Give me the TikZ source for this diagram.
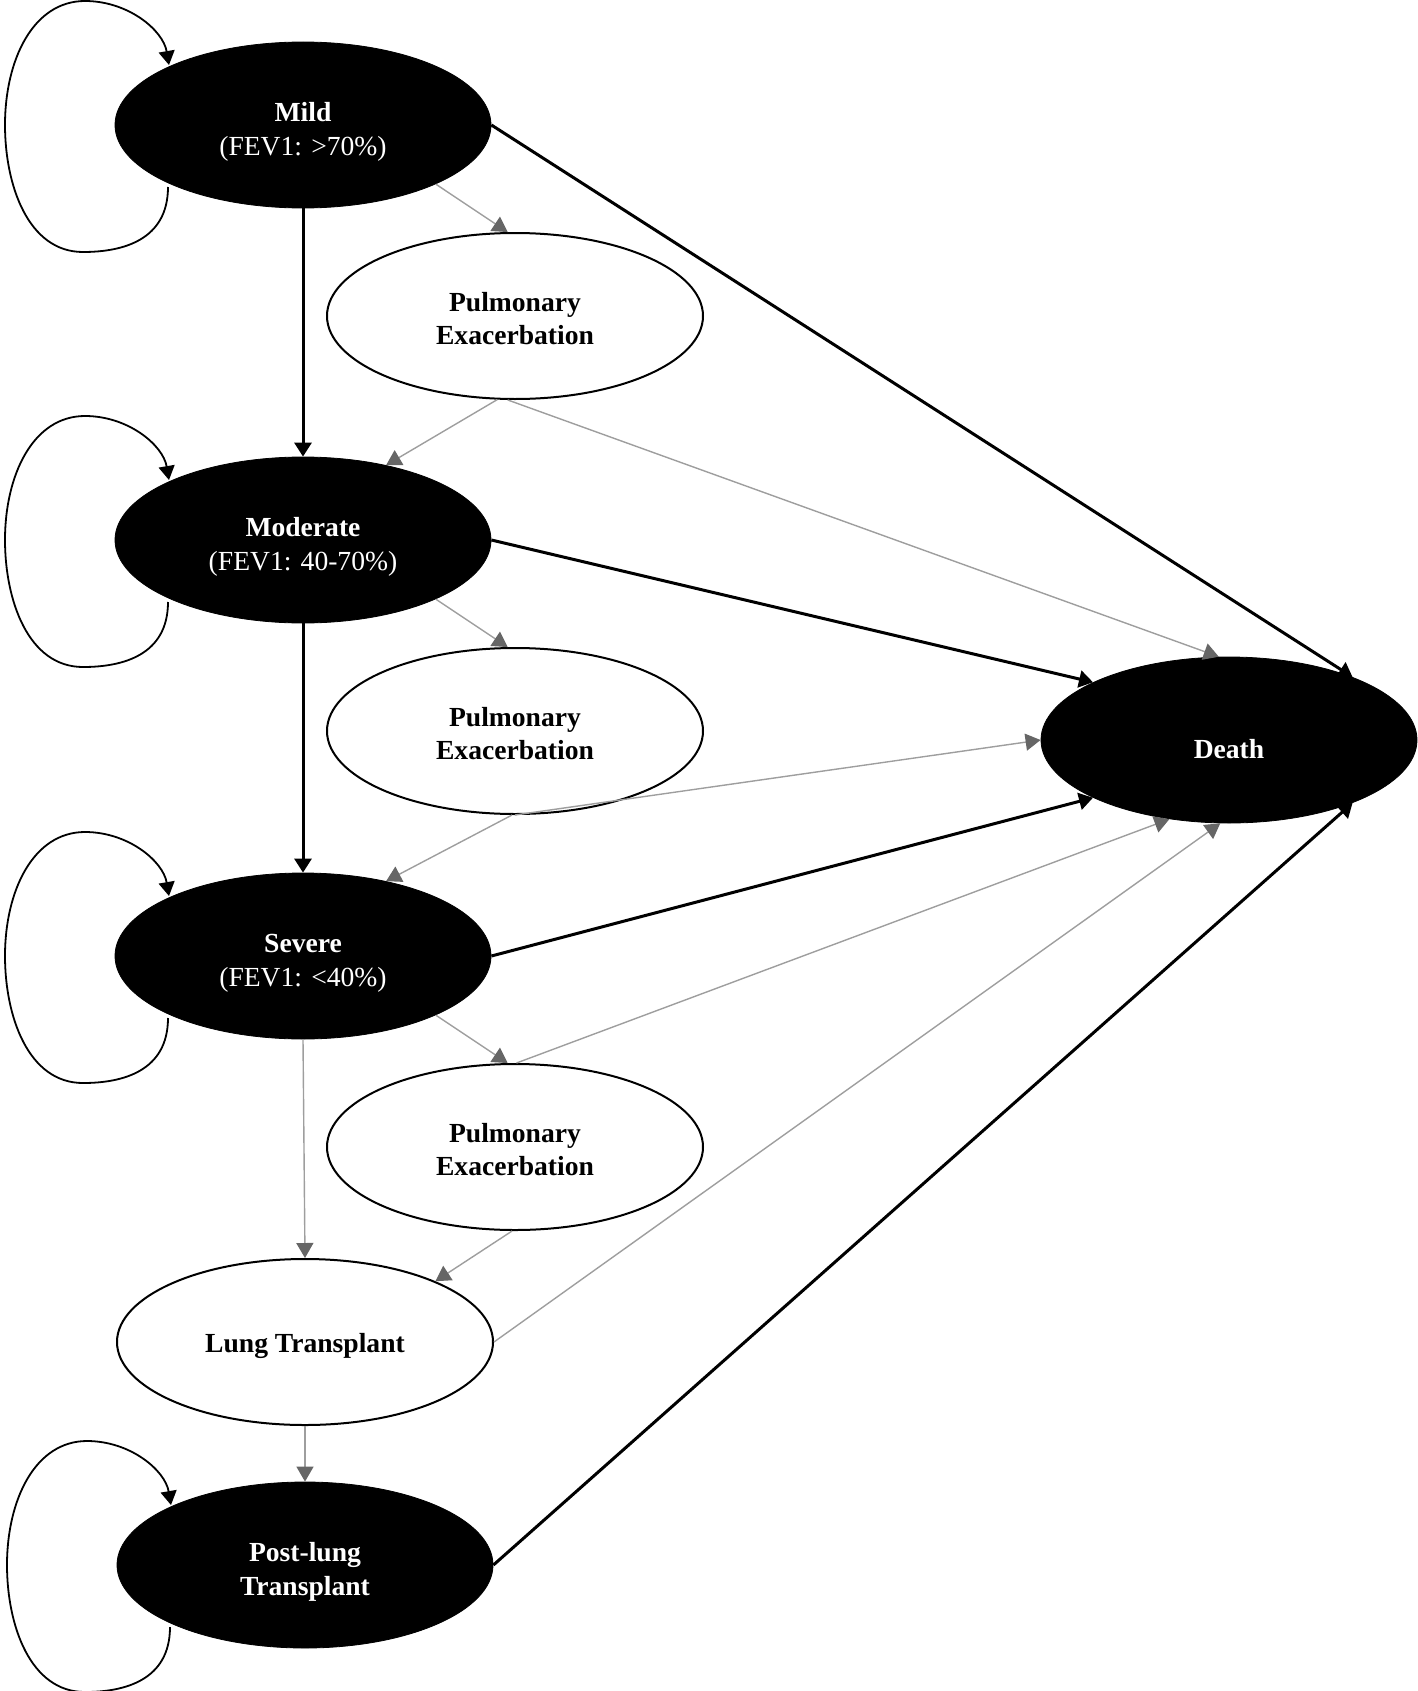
\documentclass[tikz,border=0pt]{standalone}
\usepackage{fontspec}
\setmainfont{Liberation Serif}
\usetikzlibrary{arrows.meta,shapes.geometric}
\definecolor{lineg}{HTML}{9E9E9E}
\definecolor{headg}{HTML}{666666}
\tikzset{
  state/.style={ellipse, minimum width=188pt, minimum height=83pt, inner sep=0pt,
    align=center, font=\fontsize{13.8}{17}\selectfont},
  blackstate/.style={state, fill=black, draw=black, text=white, text height=33pt},
  whitestate/.style={state, fill=white, draw=black, line width=1pt, text height=28.5pt,
    font=\fontsize{13.8}{16.5}\selectfont\bfseries},
  thickarr/.style={line width=1.5pt, -{Triangle[length=7pt,width=8.5pt]}},
  thinarr/.style={line width=0.7pt, draw=lineg, -{Triangle[length=7.5pt,width=8.5pt,color=headg,fill=headg]}},
  selfloop/.style={line width=0.9pt, -{Triangle[length=7pt,width=8pt]}}
}
\begin{document}
\begin{tikzpicture}[x=0.5pt,y=-0.5pt]
\useasboundingbox (0,0) rectangle (1418,1691);
% nodes
\node[blackstate] (mild) at (303,125) {\textbf{Mild}\\(FEV1: >70\%)};
\node[whitestate] (pulm1) at (515,316) {Pulmonary\\Exacerbation};
\node[blackstate] (moderate) at (303,540) {\textbf{Moderate}\\(FEV1: 40-70\%)};
\node[whitestate] (pulm2) at (515,731) {Pulmonary\\Exacerbation};
\node[blackstate] (severe) at (303,956) {\textbf{Severe}\\(FEV1: <40\%)};
\node[whitestate] (pulm3) at (515,1147) {Pulmonary\\Exacerbation};
\node[whitestate, text height=13.8pt] (lt) at (305,1342) {Lung Transplant};
\node[blackstate] (post) at (305,1565) {\textbf{Post-lung}\\\textbf{Transplant}};
\node[blackstate, text height=19pt] (death) at (1229,740) {\textbf{Death}};
% thin gray connectors
\draw[thinarr] (mild.336) -- (pulm1.95);
\draw[thinarr] (pulm1.258) -- (moderate.42);
\draw[thinarr] (pulm1.265) -- (death.97);
\draw[thinarr] (moderate.336) -- (pulm2.95);
\draw[thinarr] (pulm2.268) -- (severe.42);
\draw[thinarr] (pulm2.270) -- (death.180);
\draw[thinarr] (severe.336) -- (pulm3.95);
\draw[thinarr] (severe.south) -- (lt.north);
\draw[thinarr] (pulm3.89) -- (death.233);
\draw[thinarr] (pulm3.268) -- (lt.25);
\draw[thinarr] (lt.east) -- (death.264);
\draw[thinarr] (lt.south) -- (post.north);
% thick black connectors
\draw[thickarr] (mild.south) -- (moderate.north);
\draw[thickarr] (moderate.south) -- (severe.north);
\draw[thickarr] (mild.east) -- (death.27);
\draw[thickarr] (moderate.east) -- (death.157);
\draw[thickarr] (severe.east) -- (death.203);
\draw[thickarr] (post.east) -- (death.333);
% self loops
\foreach \n in {mild,moderate,severe,post}{
  \draw[selfloop, shift={(\n.center)}] (-135,62) .. controls (-135,115) and (-180,127) .. (-220,127)
    .. controls (-275,127) and (-298,60) .. (-298,0)
    .. controls (-298,-65) and (-270,-124) .. (-218,-124)
    .. controls (-175,-124) and (-140,-95) .. (-134,-60);
}
\end{tikzpicture}
\end{document}
